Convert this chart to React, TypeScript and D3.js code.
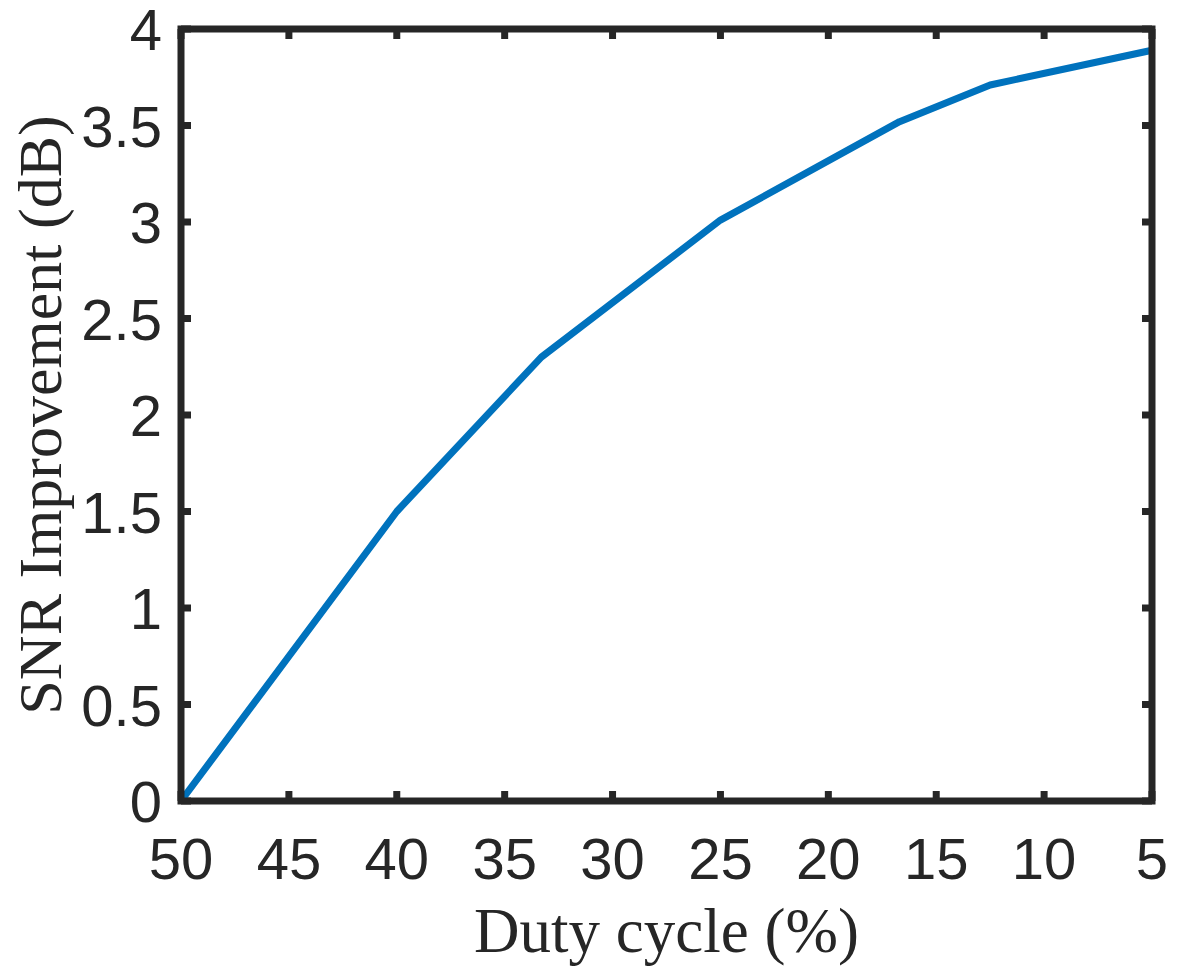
import React, { useEffect, useRef } from 'react';
import * as d3 from 'd3';

// duty cycle (%) and measured SNR improvement (dB)
const dutyCycle = [50, 40, 33.3, 25, 16.7, 12.5, 5];
const snrGain = [0, 1.5, 2.3, 3.01, 3.52, 3.71, 3.89];

const xTicks = [50, 45, 40, 35, 30, 25, 20, 15, 10, 5];
const yTicks = [0, 0.5, 1, 1.5, 2, 2.5, 3, 3.5, 4];

const W = 1186;
const H = 971;
const margin = { top: 29, right: 34, bottom: 170, left: 181 };

const App = () => {
  const svgRef = useRef<SVGSVGElement>(null);

  useEffect(() => {
    const svg = d3.select(svgRef.current).attr('width', W).attr('height', H);
    svg.selectAll('*').remove();

    const x0 = margin.left;
    const x1 = W - margin.right;
    const y0 = H - margin.bottom;
    const y1 = margin.top;

    const x = d3.scaleLinear().domain([50, 5]).range([x0, x1]);
    const y = d3.scaleLinear().domain([0, 4]).range([y0, y1]);

    const frameColor = '#262626';
    const tickLen = 10;

    // tick marks (inside, mirrored on top / right)
    const ticks = svg.append('g').attr('stroke', frameColor).attr('stroke-width', 7);
    xTicks.forEach(t => {
      ticks.append('line').attr('x1', x(t)).attr('x2', x(t)).attr('y1', y0).attr('y2', y0 - tickLen);
      ticks.append('line').attr('x1', x(t)).attr('x2', x(t)).attr('y1', y1).attr('y2', y1 + tickLen);
    });
    yTicks.forEach(t => {
      ticks.append('line').attr('x1', x0).attr('x2', x0 + tickLen).attr('y1', y(t)).attr('y2', y(t));
      ticks.append('line').attr('x1', x1).attr('x2', x1 - tickLen).attr('y1', y(t)).attr('y2', y(t));
    });

    // data line
    const line = d3.line<number>()
      .x((d, i) => x(dutyCycle[i]))
      .y(d => y(d));

    svg.append('path')
      .datum(snrGain)
      .attr('d', line)
      .attr('fill', 'none')
      .attr('stroke', '#0072BD')
      .attr('stroke-width', 7)
      .attr('stroke-linejoin', 'round');

    // box
    svg.append('rect')
      .attr('x', x0).attr('y', y1)
      .attr('width', x1 - x0).attr('height', y0 - y1)
      .attr('fill', 'none')
      .attr('stroke', frameColor)
      .attr('stroke-width', 7);

    // tick labels
    const tickFont = '"Liberation Sans", Arial, sans-serif';
    svg.append('g').selectAll('text')
      .data(xTicks)
      .enter()
      .append('text')
      .attr('x', d => x(d))
      .attr('y', 879)
      .attr('text-anchor', 'middle')
      .attr('font-family', tickFont)
      .attr('font-size', 58)
      .attr('fill', frameColor)
      .text(d => d);

    svg.append('g').selectAll('text')
      .data(yTicks)
      .enter()
      .append('text')
      .attr('x', 162)
      .attr('y', d => y(d) + 21)
      .attr('text-anchor', 'end')
      .attr('font-family', tickFont)
      .attr('font-size', 58)
      .attr('fill', frameColor)
      .text(d => d);

    // axis titles
    const titleFont = '"Liberation Serif", "Times New Roman", serif';
    svg.append('text')
      .attr('x', (x0 + x1) / 2)
      .attr('y', 952)
      .attr('text-anchor', 'middle')
      .attr('font-family', titleFont)
      .attr('font-size', 63)
      .attr('fill', frameColor)
      .text('Duty cycle (%)');

    svg.append('text')
      .attr('transform', `translate(61,${(y0 + y1) / 2}) rotate(-90)`)
      .attr('text-anchor', 'middle')
      .attr('font-family', titleFont)
      .attr('font-size', 62)
      .attr('fill', frameColor)
      .text('SNR Improvement (dB)');
  }, []);

  return <svg ref={svgRef} style={{ position: 'absolute', left: 0, top: 0, background: '#fff' }}></svg>;
};

export default App;
